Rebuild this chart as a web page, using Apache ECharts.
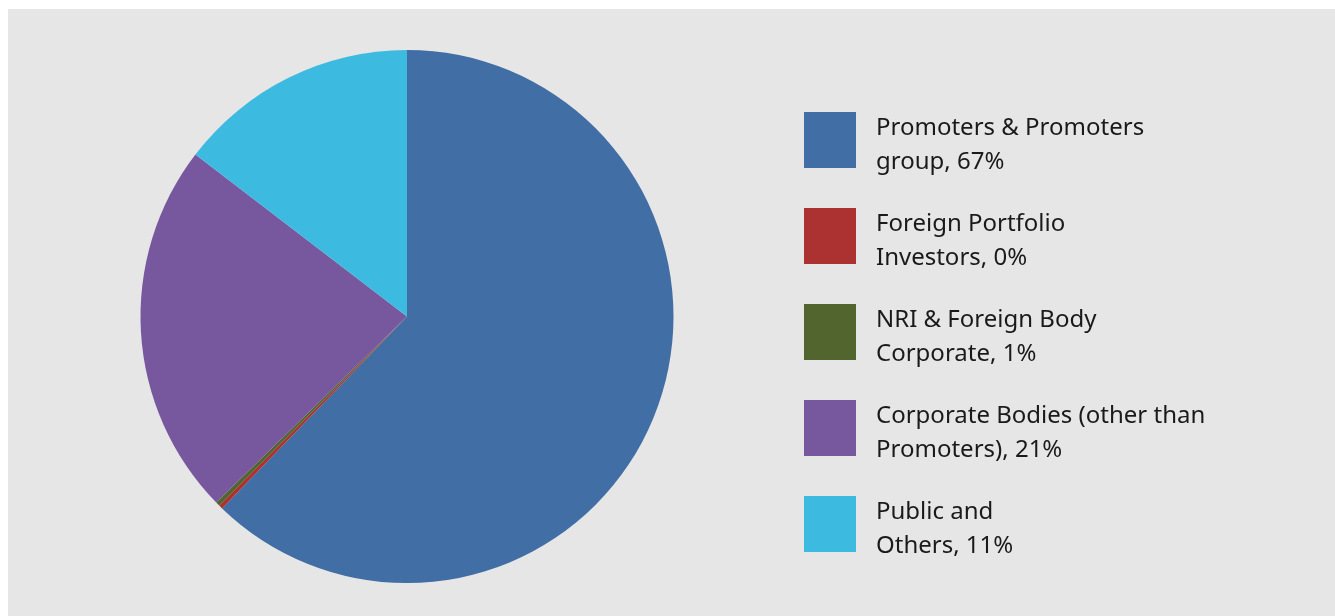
<!DOCTYPE html>
<html>
<head>
<meta charset="utf-8">
<script src="https://cdn.jsdelivr.net/npm/echarts@6/dist/echarts.min.js"></script>
<style>
  html, body { margin: 0; padding: 0; background: #fff; }
  #chart { position: absolute; left: 8px; top: 9px; width: 1327px; height: 607px; background: #e6e6e6; }
</style>
</head>
<body>
<div id="chart"></div>
<script>
// shareholding categories and the legend labels as printed
const categories = [
  'Promoters & Promoters group',
  'Foreign Portfolio Investors',
  'NRI & Foreign Body Corporate',
  'Corporate Bodies (other than Promoters)',
  'Public and Others'
]
const legendLabels = [
  ['Promoters & Promoters', 'group, 67%'],
  ['Foreign Portfolio', 'Investors, 0%'],
  ['NRI & Foreign Body', 'Corporate, 1%'],
  ['Corporate Bodies (other than', 'Promoters), 21%'],
  ['Public and', 'Others, 11%']
]
// slice sizes
const shareValues = [62.2, 0.24, 0.25, 22.7, 14.6]
const colors = ['#406ea5', '#ab3231', '#52652f', '#77589f', '#3dbadf']

const chart = echarts.init(document.getElementById('chart'))

chart.setOption({
  animation: false,
  color: colors,
  legend: {
    orient: 'vertical',
    left: 791,
    top: 90,
    itemWidth: 52,
    itemHeight: 56,
    itemGap: 26,
    icon: 'rect',
    selectedMode: false,
    // a thin blank first line nudges the two text lines below the swatch centre
    formatter: name => {
      const lines = legendLabels[categories.indexOf(name)]
      return '{gap| }\n{t|' + lines[0] + '}\n{t|' + lines[1] + '}'
    },
    textStyle: {
      fontFamily: 'Noto Sans',
      fontSize: 24,
      color: '#1a1a1a',
      padding: [0, 0, 0, 15],
      rich: {
        gap: { fontSize: 4, lineHeight: 10 },
        t: { fontFamily: 'Noto Sans', fontSize: 24, lineHeight: 34, color: '#1a1a1a' }
      }
    },
    data: categories
  },
  series: [{
    type: 'pie',
    center: [399, 307.5],
    radius: 266.5,
    startAngle: 90,
    clockwise: true,
    label: { show: false },
    labelLine: { show: false },
    emphasis: { disabled: true },
    itemStyle: { borderWidth: 0 },
    data: categories.map((name, i) => ({ name, value: shareValues[i] }))
  }]
})
</script>
</body>
</html>
